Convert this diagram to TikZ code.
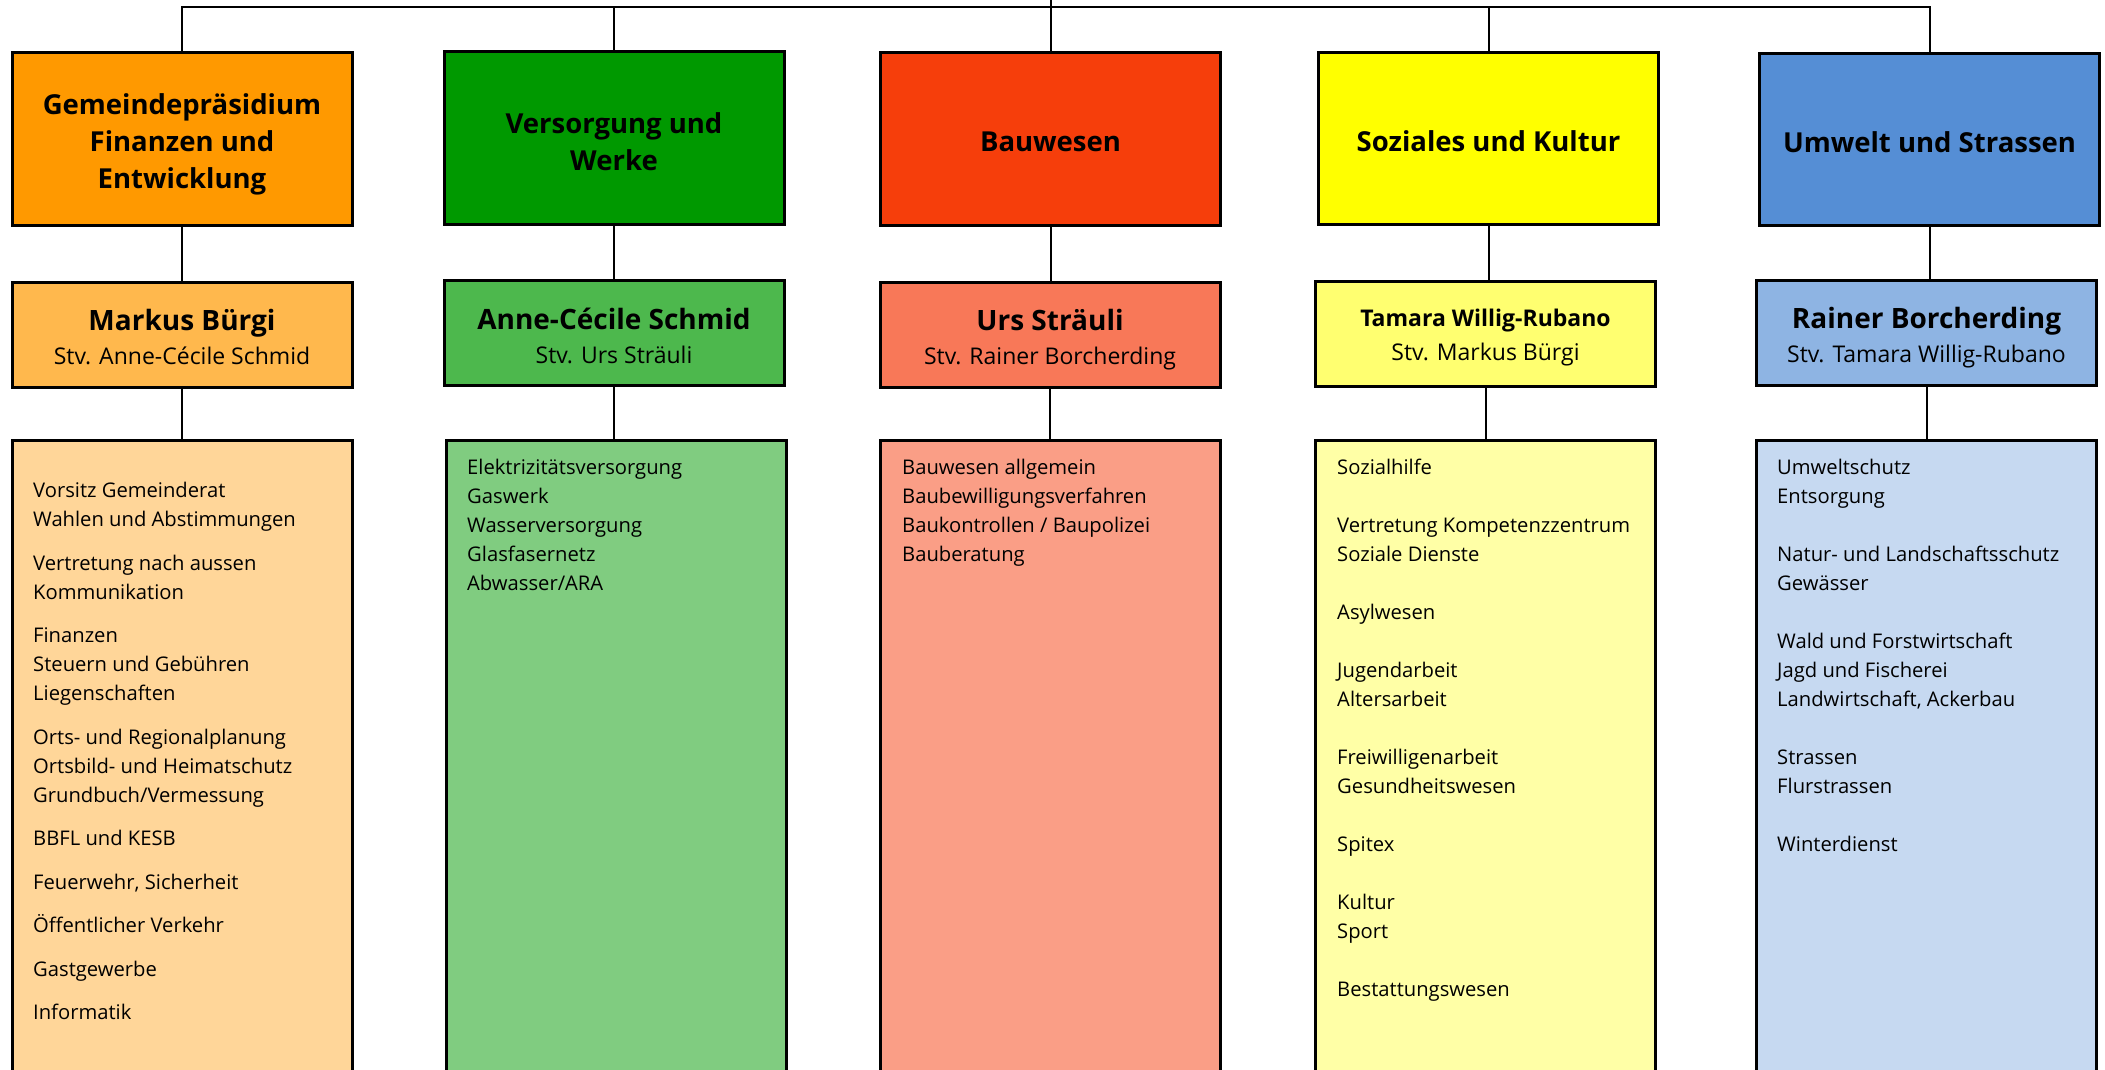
\documentclass[tikz,border=0pt]{standalone}
\usepackage{fontspec}
\setmainfont{Open Sans}
\definecolor{oA}{HTML}{FF9900}\definecolor{oB}{HTML}{FFB84D}\definecolor{oC}{HTML}{FFD699}
\definecolor{gA}{HTML}{009900}\definecolor{gB}{HTML}{4DB84D}\definecolor{gC}{HTML}{80CC80}
\definecolor{rA}{HTML}{F63E0B}\definecolor{rB}{HTML}{F87858}\definecolor{rC}{HTML}{FA9E86}
\definecolor{yA}{HTML}{FFFF00}\definecolor{yB}{HTML}{FFFF70}\definecolor{yC}{HTML}{FFFFA6}
\definecolor{bA}{HTML}{558ED5}\definecolor{bB}{HTML}{8EB4E3}\definecolor{bC}{HTML}{C6D9F1}
\begin{document}
\begin{tikzpicture}[x=1pt,y=-1pt,
  box/.style={draw=black, line width=3pt, rectangle, inner sep=0pt},
  head/.style={box, minimum width=340pt, minimum height=172pt},
  headtext/.style={inner sep=0pt, align=center, font=\fontsize{27.5}{37}\selectfont\bfseries},
  person/.style={box, minimum width=340pt, minimum height=105pt},
  persontext/.style={inner sep=0pt, align=center, font=\fontsize{23}{34}\selectfont},
  area/.style={box, minimum width=340pt, minimum height=660pt},
  item/.style={anchor=base west, inner sep=0pt, font=\fontsize{20.2}{24}\selectfont},
  conn/.style={line width=2pt, draw=black}]
\useasboundingbox (0,0) rectangle (2105,1070);
\clip (0,0) rectangle (2105,1070);
\fill[white] (0,0) rectangle (2105,1070);
\coordinate (bus) at (0,7);
\coordinate (topedge) at (0,0);
% row 1
\node[head, fill=oA] (h1) at (182,139) {};
\node[head, fill=gA] (h2) at (614,138) {};
\node[head, fill=rA] (h3) at (1050.5,139) {};
\node[head, fill=yA] (h4) at (1488.5,138.5) {};
\node[head, fill=bA] (h5) at (1929.5,139.5) {};
\node[headtext] (h1t) at (182,144) {Gemeindepräsidium\\Finanzen und\\Entwicklung};
\node[headtext] (h2t) at (614,141.5) {Versorgung und\\Werke};
\node[headtext] (h3t) at (1050.5,142) {Bauwesen};
\node[headtext] (h4t) at (1488.5,141) {Soziales und Kultur};
\node[headtext] (h5t) at (1929.5,142) {Umwelt und Strassen};
% row 2
\node[person, fill=oB] (p1) at (182,334.5) {};
\node[person, fill=gB] (p2) at (614,333) {};
\node[person, fill=rB] (p3) at (1050,335) {};
\node[person, fill=yB] (p4) at (1485.5,334) {};
\node[person, fill=bB] (p5) at (1926.5,332.5) {};
\node[persontext] (p1t) at (182,337) {{\fontsize{28}{34}\bfseries Markus Bürgi}\\Stv. Anne-Cécile Schmid};
\node[persontext] (p2t) at (614,336) {{\fontsize{28}{34}\bfseries Anne-Cécile Schmid}\\Stv. Urs Sträuli};
\node[persontext] (p3t) at (1050,340) {{\fontsize{28}{34}\bfseries Urs Sträuli}\\Stv. Rainer Borcherding};
\node[persontext] (p4t) at (1485.5,337.5) {{\fontsize{23}{33}\bfseries Tamara Willig-Rubano}\\Stv. Markus Bürgi};
\node[persontext] (p5t) at (1926.5,337.5) {{\fontsize{28}{34}\bfseries Rainer Borcherding}\\Stv. Tamara Willig-Rubano};
% row 3
\node[area, fill=oC] (r1) at (182,770) {};
\node[area, fill=gC] (r2) at (616,770) {};
\node[area, fill=rC] (r3) at (1050.5,770) {};
\node[area, fill=yC] (r4) at (1485.5,770) {};
\node[area, fill=bC] (r5) at (1926.5,770) {};
% items
\foreach \i/\t in {0/{Vorsitz Gemeinderat}, 2/{Wahlen und Abstimmungen}, 5/{Vertretung nach aussen}, 7/{Kommunikation}, 10/{Finanzen}, 12/{Steuern und Gebühren}, 14/{Liegenschaften}, 17/{Orts- und Regionalplanung}, 19/{Ortsbild- und Heimatschutz}, 21/{Grundbuch/Vermessung}, 24/{BBFL und KESB}, 27/{Feuerwehr, Sicherheit}, 30/{Öffentlicher Verkehr}, 33/{Gastgewerbe}, 36/{Informatik}}
  \node[item] (a\i) at (33,{497.5+14.5*\i}) {\t};
\foreach \i/\t in {0/{Elektrizitätsversorgung}, 1/{Gaswerk}, 2/{Wasserversorgung}, 3/{Glasfasernetz}, 4/{Abwasser/ARA}}
  \node[item] (b\i) at (467,{474.7+29*\i}) {\t};
\foreach \i/\t in {0/{Bauwesen allgemein}, 1/{Baubewilligungsverfahren}, 2/{Baukontrollen / Baupolizei}, 3/{Bauberatung}}
  \node[item] (c\i) at (902,{474.7+29*\i}) {\t};
\foreach \i/\t in {0/{Sozialhilfe}, 2/{Vertretung Kompetenzzentrum}, 3/{Soziale Dienste}, 5/{Asylwesen}, 7/{Jugendarbeit}, 8/{Altersarbeit}, 10/{Freiwilligenarbeit}, 11/{Gesundheitswesen}, 13/{Spitex}, 15/{Kultur}, 16/{Sport}, 18/{Bestattungswesen}}
  \node[item] (d\i) at (1337,{474.7+29*\i}) {\t};
\foreach \i/\t in {0/{Umweltschutz}, 1/{Entsorgung}, 3/{Natur- und Landschaftsschutz}, 4/{Gewässer}, 6/{Wald und Forstwirtschaft}, 7/{Jagd und Fischerei}, 8/{Landwirtschaft, Ackerbau}, 10/{Strassen}, 11/{Flurstrassen}, 13/{Winterdienst}}
  \node[item] (e\i) at (1777,{474.7+29*\i}) {\t};
% connectors
\draw[conn] (h1.north) -- (h1.north |- bus) -- (h5.north |- bus) -- (h5.north);
\draw[conn] (h2.north) -- (h2.north |- bus);
\draw[conn] (h4.north) -- (h4.north |- bus);
\draw[conn] (h3.north) -- (h3.north |- topedge);
\foreach \i in {1,...,5} {
  \draw[conn] (h\i.south) -- (h\i.south |- p\i.north);
  \draw[conn] (p\i.south) -- (p\i.south |- r\i.north);
}
\end{tikzpicture}
\end{document}
